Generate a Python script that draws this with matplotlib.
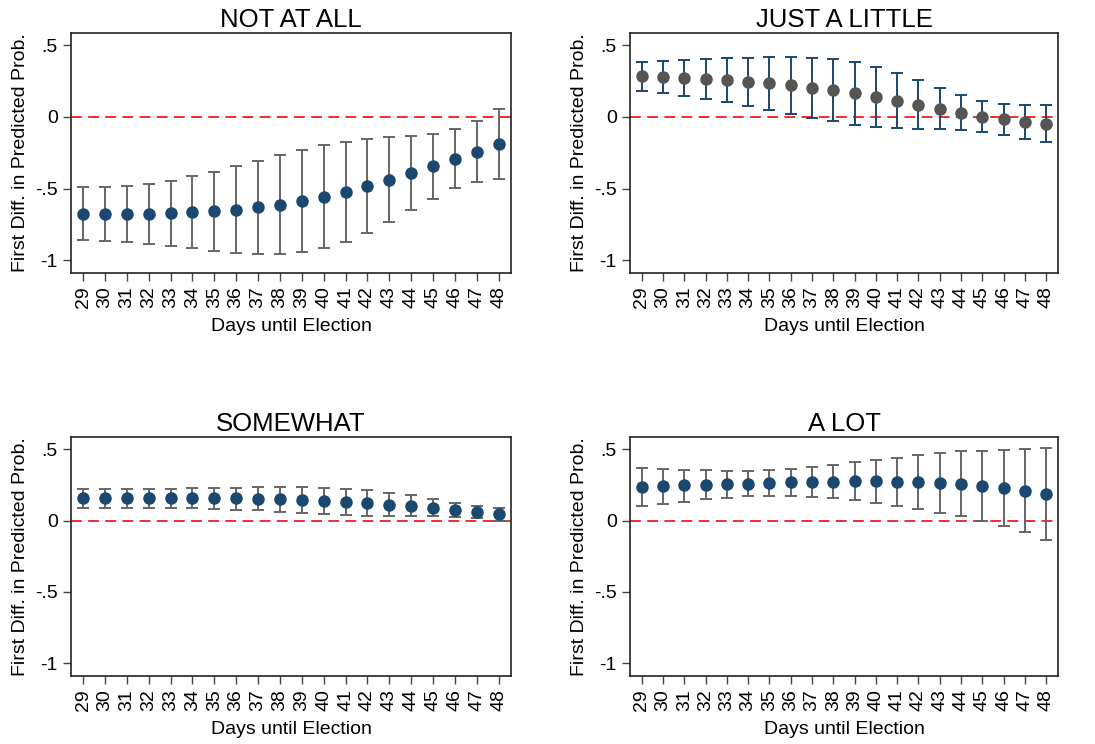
import matplotlib
matplotlib.use("Agg")
import matplotlib.pyplot as plt
import numpy as np

plt.rcParams['font.family'] = ['Liberation Sans', 'DejaVu Sans']

# --- dados ---
dias = list(range(29, 49))

titulos = ["NOT AT ALL", "JUST A LITTLE", "SOMEWHAT", "A LOT"]

# NOT AT ALL
nada_est = [-0.677, -0.677, -0.679, -0.679, -0.674, -0.665, -0.658, -0.647, -0.630, -0.612,
            -0.586, -0.558, -0.523, -0.484, -0.440, -0.393, -0.342, -0.291, -0.242, -0.191]
nada_sup = [-0.488, -0.488, -0.481, -0.465, -0.447, -0.416, -0.384, -0.344, -0.305, -0.265,
            -0.230, -0.198, -0.172, -0.151, -0.137, -0.130, -0.116, -0.084, -0.026, 0.053]
nada_inf = [-0.863, -0.867, -0.874, -0.886, -0.902, -0.916, -0.933, -0.947, -0.956, -0.956,
            -0.942, -0.916, -0.874, -0.814, -0.737, -0.653, -0.570, -0.498, -0.453, -0.435]

# JUST A LITTLE
pouco_est = [0.284, 0.279, 0.272, 0.265, 0.258, 0.247, 0.235, 0.221, 0.205, 0.186,
             0.165, 0.140, 0.114, 0.086, 0.058, 0.030, 0.002, -0.016, -0.035, -0.047]
pouco_sup = [0.386, 0.391, 0.398, 0.405, 0.409, 0.414, 0.419, 0.419, 0.414, 0.402,
             0.381, 0.349, 0.309, 0.258, 0.202, 0.151, 0.114, 0.091, 0.086, 0.086]
pouco_inf = [0.181, 0.165, 0.147, 0.128, 0.105, 0.079, 0.051, 0.023, -0.005, -0.030,
             -0.053, -0.070, -0.079, -0.084, -0.086, -0.088, -0.102, -0.126, -0.151, -0.177]

# SOMEWHAT
algo_est = [0.156, 0.156, 0.156, 0.156, 0.156, 0.156, 0.156, 0.156, 0.153, 0.149,
            0.147, 0.140, 0.133, 0.123, 0.112, 0.102, 0.091, 0.074, 0.060, 0.047]
algo_sup = [0.221, 0.221, 0.221, 0.221, 0.223, 0.226, 0.228, 0.230, 0.233, 0.233,
            0.233, 0.230, 0.221, 0.212, 0.195, 0.177, 0.149, 0.123, 0.102, 0.091]
algo_inf = [0.091, 0.091, 0.091, 0.091, 0.091, 0.086, 0.081, 0.077, 0.072, 0.063,
            0.056, 0.049, 0.042, 0.035, 0.033, 0.030, 0.030, 0.026, 0.016, 0.000]

# A LOT
muito_est = [0.234, 0.239, 0.246, 0.251, 0.255, 0.258, 0.262, 0.267, 0.269, 0.272,
             0.274, 0.274, 0.272, 0.269, 0.265, 0.255, 0.244, 0.230, 0.208, 0.185]
muito_sup = [0.368, 0.361, 0.356, 0.354, 0.349, 0.351, 0.356, 0.365, 0.375, 0.391,
             0.410, 0.424, 0.440, 0.457, 0.473, 0.485, 0.489, 0.496, 0.501, 0.511]
muito_inf = [0.101, 0.115, 0.133, 0.148, 0.159, 0.169, 0.171, 0.171, 0.164, 0.157,
             0.141, 0.122, 0.103, 0.082, 0.056, 0.030, -0.005, -0.040, -0.082, -0.138]

yticks = [-1, -0.5, 0, 0.5]
ytick_labels = ["-1", "-.5", "0", ".5"]

series = [
    (nada_est, nada_sup, nada_inf),
    (pouco_est, pouco_sup, pouco_inf),
    (algo_est, algo_sup, algo_inf),
    (muito_est, muito_sup, muito_inf),
]

azul = '#1a4870'
cinza = '#666666'
# no segundo painel as cores estão trocadas
cor_ponto = [azul, '#555555', azul, azul]
cor_barra = [cinza, azul, cinza, cinza]

W, H = 1095, 744
caixas = [
    (71, 33, 440, 240),
    (630, 33, 428, 240),
    (71, 437, 440, 239),
    (630, 437, 428, 239),
]

fig = plt.figure(figsize=(W / 100, H / 100), dpi=100)

for k in range(4):
    x0, y0, w, h = caixas[k]
    ax = fig.add_axes([x0 / W, 1 - (y0 + h) / H, w / W, h / H])
    est, sup, inf = [np.array(s) for s in series[k]]
    x = np.array(dias)

    ax.axhline(0, color='#ee1c1c', linestyle=(0, (6, 3.5)), linewidth=1.3, zorder=1)
    ax.errorbar(x, est, yerr=[est - inf, sup - est], fmt='none',
                ecolor=cor_barra[k], elinewidth=1.4, capsize=4.5, capthick=1.4, zorder=2)
    ax.plot(x, est, 'o', color=cor_ponto[k], markersize=8, zorder=3)

    ax.set_xlim(28.45, 48.56)
    ax.set_ylim(-1.09, 0.586)
    ax.set_xticks(dias)
    ax.set_xticklabels([str(d) for d in dias], rotation=90, fontsize=14)
    ax.set_yticks(yticks)
    ax.set_yticklabels(ytick_labels, fontsize=14)
    ax.tick_params(direction='out', length=5.5, width=1, color='#444444', pad=4)
    for s in ax.spines.values():
        s.set_linewidth(1.2)
        s.set_color('#222222')

    ax.set_title(titulos[k], fontsize=18.5, pad=4)
    ax.set_xlabel('Days until Election', fontsize=14, labelpad=7)
    ax.set_ylabel('First Diff. in Predicted Prob.', fontsize=14, labelpad=4)

plt.savefig('out.png', dpi=100)
